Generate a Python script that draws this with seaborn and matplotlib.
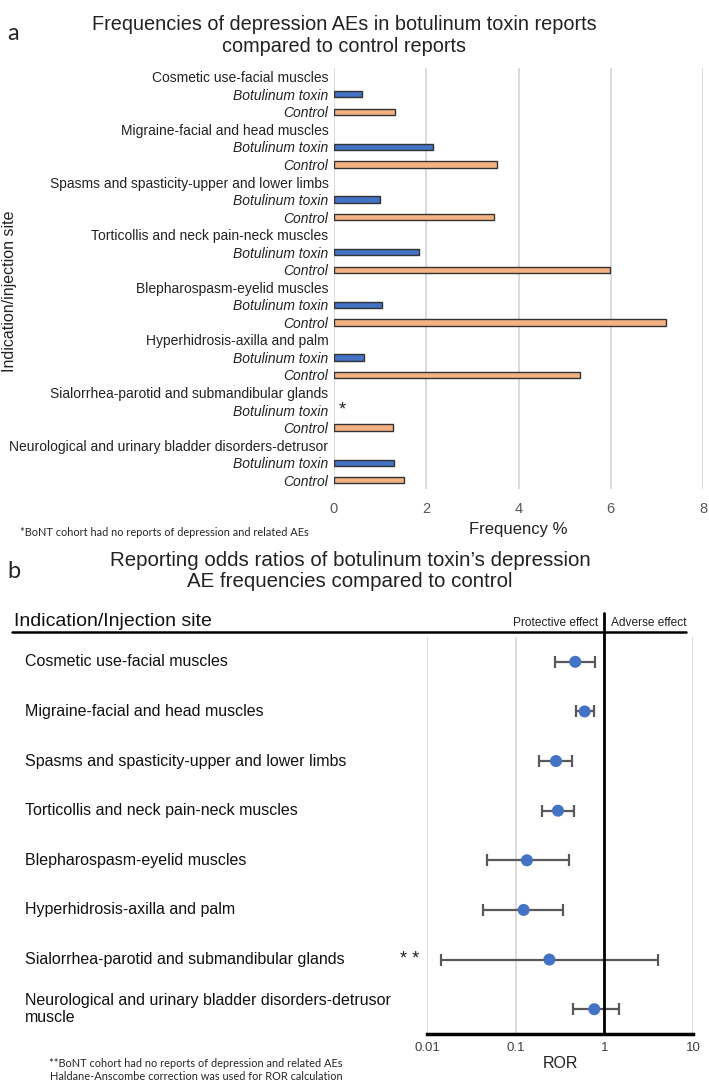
import numpy as np
import pandas as pd
import seaborn as sns
import matplotlib.pyplot as plt
from matplotlib.lines import Line2D
from matplotlib.ticker import NullLocator
from matplotlib.transforms import blended_transform_factory

# ---- data ----
sites = [
    "Cosmetic use-facial muscles",
    "Migraine-facial and head muscles",
    "Spasms and spasticity-upper and lower limbs",
    "Torticollis and neck pain-neck muscles",
    "Blepharospasm-eyelid muscles",
    "Hyperhidrosis-axilla and palm",
    "Sialorrhea-parotid and submandibular glands",
    "Neurological and urinary bladder disorders-detrusor",
]
sites_b = sites[:-1] + ["Neurological and urinary bladder disorders-detrusor\nmuscle"]

freq_botox = [0.60, 2.14, 0.99, 1.85, 1.03, 0.66, 0.0, 1.29]
freq_control = [1.33, 3.54, 3.47, 5.99, 7.20, 5.34, 1.28, 1.52]
freq_ticks = [0, 2, 4, 6, 8]

ror = [0.47, 0.60, 0.285, 0.30, 0.134, 0.123, 0.24, 0.77]
ror_low = [0.28, 0.48, 0.185, 0.20, 0.0475, 0.043, 0.0145, 0.44]
ror_high = [0.79, 0.77, 0.43, 0.45, 0.40, 0.34, 4.06, 1.48]
ror_ticks = [0.01, 0.1, 1, 10]
ror_tick_labels = ["0.01", "0.1", "1", "10"]

BLUE = "#4472C4"
ORANGE = "#F4B183"

sns.set_style("white")
plt.rcParams["font.family"] = ["Liberation Sans", "DejaVu Sans"]

W, H = 709, 1082
fig = plt.figure(figsize=(W / 100, H / 100), dpi=100)


def fx(px):
    return px / W


def fy(px):
    return 1 - px / H


# ---- panel a: grouped frequency bars ----
rows = []
for i, s in enumerate(sites):
    rows.append({"key": f"{i}h", "label": s, "freq": np.nan, "group": "head"})
    rows.append({"key": f"{i}b", "label": "Botulinum toxin", "freq": freq_botox[i], "group": "bot"})
    rows.append({"key": f"{i}c", "label": "Control", "freq": freq_control[i], "group": "ctrl"})
df = pd.DataFrame(rows)
# zero-frequency rows get no bar at all (as in the original)
bars = df[df["freq"] > 0]

ax = fig.add_axes([fx(334), fy(489), fx(703) - fx(334), (489 - 68) / H])
sns.barplot(
    data=bars, x="freq", y="key", hue="group", order=list(df["key"]),
    palette={"bot": BLUE, "ctrl": ORANGE}, dodge=False, width=0.36, saturation=1,
    edgecolor="#333333", linewidth=1, legend=False, ax=ax,
)
ax.set_xlim(0, 8)
ax.set_ylim(len(df) - 0.5, -0.5)
ax.set_xticks(freq_ticks)
ax.set_xticklabels([str(t) for t in freq_ticks])
ax.set_yticks(range(len(df)))
ax.set_yticklabels(df["label"])
for lab, grp in zip(ax.get_yticklabels(), df["group"]):
    if grp != "head":
        lab.set_style("italic")
ax.tick_params(axis="y", length=0, pad=4, labelsize=10, labelcolor="#222222")
ax.tick_params(axis="x", length=0, pad=9, labelsize=10.5, labelcolor="#595959")
ax.xaxis.grid(True, color="#d9d9d9", lw=1.3)
ax.set_axisbelow(True)
for sp in ax.spines.values():
    sp.set_visible(False)
ax.set_ylabel("")
ax.set_xlabel("Frequency %", fontsize=12, labelpad=5, color="#222222")
# asterisk on the Sialorrhea botulinum row (no reports)
ax.text(0.1, 6 * 3 + 1, "*", fontsize=13, va="center", ha="left", color="#222222")

fig.text(fx(10), fy(291), "Indication/injection site", rotation=90,
         ha="center", va="center", fontsize=11.5, color="#222222")
fig.text(fx(344), fy(35), "Frequencies of depression AEs in botulinum toxin reports\ncompared to control reports",
         ha="center", va="center", fontsize=14.3, linespacing=1.2, color="#222222")
fig.text(fx(7), fy(33), "a", fontsize=17, family=["Lato", "DejaVu Sans"], va="center")
fig.text(fx(20), fy(532), "*BoNT cohort had no reports of depression and related AEs",
         fontsize=7.9, family=["Lato", "DejaVu Sans"], va="center")

# ---- panel b: reporting odds ratio forest plot ----
ax2 = fig.add_axes([fx(427), fy(1034), fx(693) - fx(427), (1034 - 637) / H])
ypos = np.arange(len(ror))
ror_arr = np.array(ror)
ax2.set_xscale("log")
ax2.errorbar(ror_arr, ypos,
             xerr=[ror_arr - np.array(ror_low), np.array(ror_high) - ror_arr],
             fmt="none", ecolor="#595959", elinewidth=1.6, capsize=4, capthick=1.6, zorder=2)
sns.scatterplot(x=ror_arr, y=ypos, color=BLUE, s=75, edgecolor="none", zorder=3, ax=ax2)
ax2.set_xlim(0.01, 10)
ax2.set_ylim(len(ror) - 0.5, -0.5)
ax2.set_xticks(ror_ticks)
ax2.set_xticklabels(ror_tick_labels)
ax2.xaxis.set_minor_locator(NullLocator())
ax2.set_yticks([])
ax2.xaxis.grid(True, color="#d9d9d9", lw=1.3)
ax2.set_axisbelow(True)
for side in ["left", "right", "top"]:
    ax2.spines[side].set_visible(False)
ax2.spines["bottom"].set_color("black")
ax2.spines["bottom"].set_linewidth(2.5)
ax2.tick_params(axis="x", length=0, pad=6, labelsize=9.5, labelcolor="#404040")
ax2.set_xlabel("ROR", fontsize=11.5, labelpad=1, color="#222222")
ax2.axvline(1, ymin=0, ymax=1 + 24 / 397, color="black", lw=2, clip_on=False, zorder=4)

tr = blended_transform_factory(fig.transFigure, ax2.transData)
for i, s in enumerate(sites_b):
    ax2.text(fx(25), i, s, transform=tr, ha="left", va="center",
             fontsize=11.5, linespacing=1.15, color="#111111")
ax2.text(fx(400), 6, "* *", transform=tr, ha="left", va="center", fontsize=13, color="#222222")

fig.add_artist(Line2D([fx(12), fx(686)], [fy(632), fy(632)], color="black", lw=1.8))
fig.text(fx(14), fy(621), "Indication/Injection site", fontsize=14, va="center", color="#111111")
fig.text(fx(598), fy(623), "Protective effect", fontsize=8.6, ha="right", va="center", color="#222222")
fig.text(fx(611), fy(623), "Adverse effect", fontsize=8.6, ha="left", va="center", color="#222222")

fig.text(fx(350), fy(571), "Reporting odds ratios of botulinum toxin\u2019s depression\nAE frequencies compared to control",
         ha="center", va="center", fontsize=14.8, linespacing=1.15, color="#222222")
fig.text(fx(7), fy(571), "b", fontsize=17, family=["Lato", "DejaVu Sans"], va="center")
fig.text(fx(196), fy(1070),
         "**BoNT cohort had no reports of depression and related AEs\nHaldane-Anscombe correction was used for ROR calculation",
         ha="center", va="center", fontsize=7.9, linespacing=1.3, family=["Lato", "DejaVu Sans"])

fig.savefig("out.png", dpi=100)
